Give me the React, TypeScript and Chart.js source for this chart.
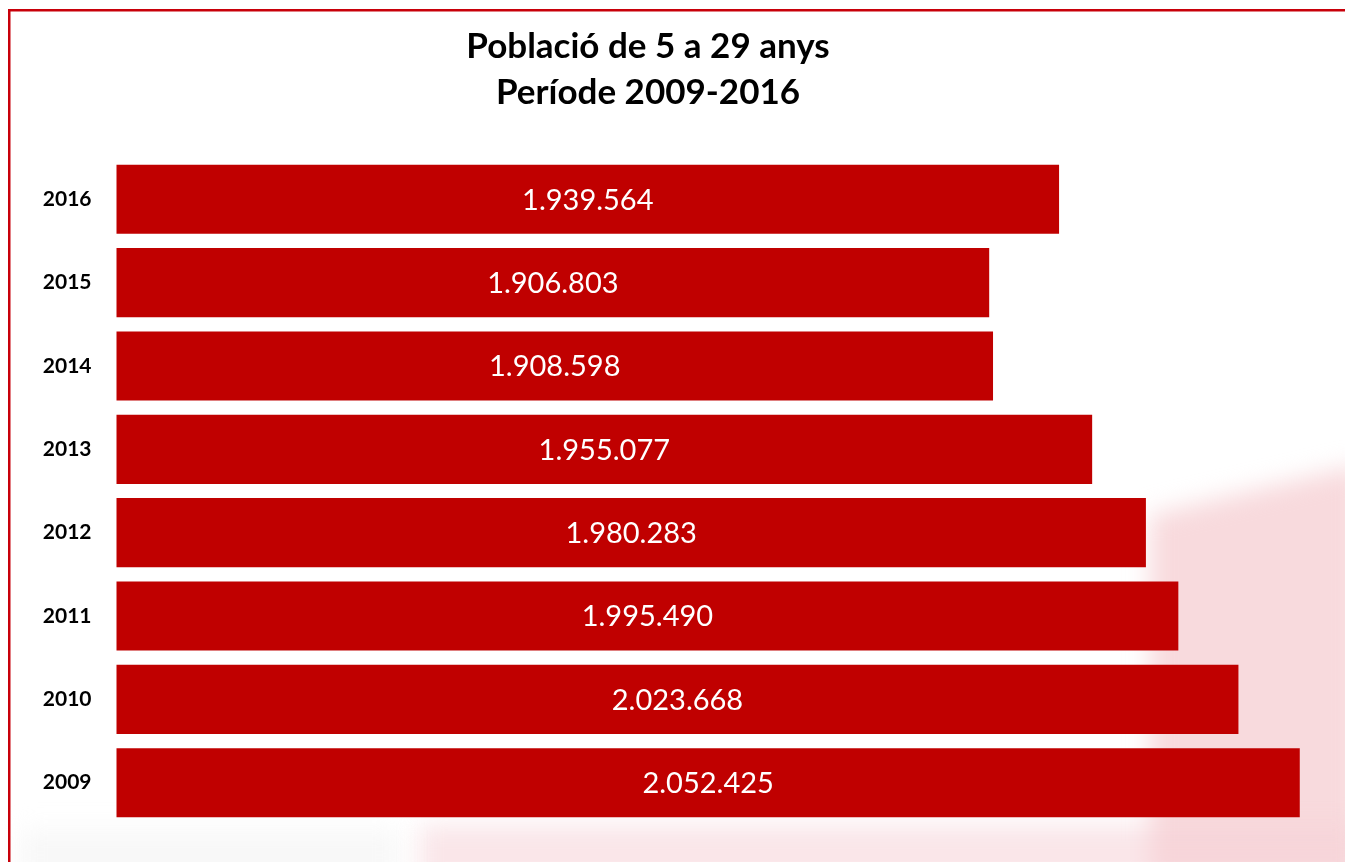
import React, { useEffect, useRef } from "react";
import { Chart, registerables } from "chart.js";

Chart.register(...registerables);

const years = ["2016", "2015", "2014", "2013", "2012", "2011", "2010", "2009"];
const population = [1939564, 1906803, 1908598, 1955077, 1980283, 1995490, 2023668, 2052425];
const titleLines = ["Població de 5 a 29 anys", "Període 2009-2016"];

const formatNumber = (v: number) =>
  String(v).replace(/\B(?=(\d{3})+(?!\d))/g, ".");

const W = 1345;
const H = 862;
const RED = "#C00000";

const decorPlugin = {
  id: "decor",
  beforeDraw(chart: any) {
    const ctx = chart.ctx;
    ctx.save();
    ctx.fillStyle = "#ffffff";
    ctx.fillRect(0, 0, W, H);
    // faint pink watermark
    ctx.filter = "blur(12px)";
    ctx.fillStyle = "rgba(245, 205, 210, 0.75)";
    ctx.beginPath();
    ctx.moveTo(1150, 515);
    ctx.lineTo(1360, 465);
    ctx.lineTo(1360, 880);
    ctx.lineTo(1150, 880);
    ctx.closePath();
    ctx.fill();
    ctx.fillStyle = "rgba(245, 210, 215, 0.55)";
    ctx.fillRect(420, 825, 940, 60);
    ctx.fillStyle = "rgba(240, 240, 240, 0.45)";
    ctx.fillRect(20, 830, 380, 50);
    ctx.filter = "none";
    ctx.restore();
  },
  afterDraw(chart: any) {
    const ctx = chart.ctx;
    ctx.save();
    // frame
    ctx.fillStyle = "#C8000A";
    ctx.fillRect(8, 9, W, 2.5);
    ctx.fillRect(8, 9, 2.5, H);
    // title
    ctx.fillStyle = "#000000";
    ctx.font = "bold 35px Lato";
    ctx.textAlign = "center";
    ctx.textBaseline = "alphabetic";
    ctx.fillText(titleLines[0], 648, 58);
    ctx.fillText(titleLines[1], 648, 104);
    // data labels
    const xs = chart.scales.x;
    const ys = chart.scales.y;
    const left = chart.chartArea.left;
    ctx.fillStyle = "#ffffff";
    ctx.font = "29px Lato";
    ctx.textAlign = "center";
    ctx.textBaseline = "middle";
    population.forEach((v, i) => {
      const end = xs.getPixelForValue(v);
      const cx = (end + left) / 2;
      const cy = ys.getPixelForValue(i);
      ctx.fillText(formatNumber(v), cx, cy + 1);
    });
    ctx.restore();
  },
};

export default function App() {
  const ref = useRef<HTMLCanvasElement | null>(null);
  useEffect(() => {
    document.body.style.margin = "0";
    const canvas = ref.current;
    if (!canvas) return;
    const chart = new Chart(canvas, {
      type: "bar",
      data: {
        labels: years,
        datasets: [
          {
            data: population,
            backgroundColor: RED,
            borderWidth: 0,
            barPercentage: 0.83,
            categoryPercentage: 1,
          },
        ],
      },
      options: {
        indexAxis: "y",
        responsive: false,
        animation: false,
        layout: { padding: { top: 157.6, bottom: 37.6, right: 15, left: 0 } },
        plugins: {
          legend: { display: false },
          title: { display: false },
          tooltip: { enabled: false },
        },
        scales: {
          x: { display: false, min: 1497600, max: 2066600 },
          y: {
            grid: { display: false, drawTicks: false },
            border: { display: false },
            ticks: {
              color: "#000000",
              font: { family: "Lato", weight: "bold", size: 21 },
              padding: 25,
            },
            afterFit: (scale: any) => {
              scale.width = 116.5;
            },
          },
        },
      },
      plugins: [decorPlugin],
    });
    return () => chart.destroy();
  }, []);
  return (
    <div style={{ width: W, height: H }}>
      <canvas ref={ref} width={W} height={H} style={{ display: "block" }} />
    </div>
  );
}
